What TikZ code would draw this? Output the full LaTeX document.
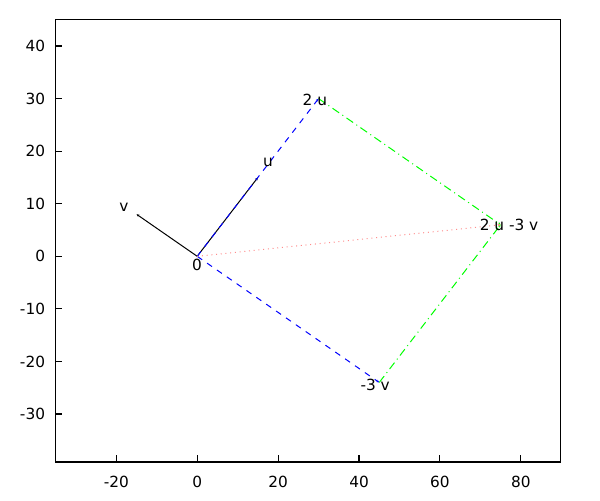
\documentclass[tikz,border=0pt]{standalone}
\usepackage{fontspec}
\setmainfont{DejaVu Sans}
\usetikzlibrary{arrows.meta}
\begin{document}
\begin{tikzpicture}[
  x=3.034pt, y=3.943pt,
  lbl/.style={inner sep=0pt, font=\fontsize{11.5}{13}\selectfont},
  vec/.style={line width=0.75pt, -{Stealth[length=2.2pt,width=2pt]}},
  blued/.style={vec, blue, dash pattern=on 4.5pt off 4.5pt},
  greendd/.style={vec, green, dash pattern=on 6pt off 3pt on 0.75pt off 3pt},
  pinkdot/.style={vec, red!45, dash pattern=on 0.75pt off 2.8pt},
  frame/.style={line width=0.8pt}
]
% bounding box: 600x500 px at 0.75pt/px, origin of data at (147.9pt,182.775pt)
\useasboundingbox (-147.9pt,-182.775pt) rectangle (302.1pt,192.225pt);
% frame
\draw[frame] (-35.08,-39.13) rectangle (89.77,45.08);
% x ticks
\foreach \t in {-20,0,20,40,60,80}{
  \draw[frame] (\t,-39.13) -- ++(0,5.25pt);
  \node[lbl] (xt\t) at ([yshift=-15pt]\t,-39.13) {\t};
}
% y ticks
\foreach \t in {-30,-20,-10,0,10,20,30,40}{
  \draw[frame] (-35.08,\t) -- ++(5.25pt,0);
  \node[lbl, anchor=east] (yt\t) at ([xshift=-7.5pt]-35.08,\t) {\t};
}
% points
\coordinate (O) at (0,0);
\coordinate (U) at (15,15);
\coordinate (V) at (-15,8);
\coordinate (TU) at (30,30);
\coordinate (MV) at (45,-24);
\coordinate (W) at (75,6);
% vectors
\draw[vec, black] (O) -- (U);
\draw[vec, black] (O) -- (V);
\draw[blued] (O) -- (TU);
\draw[blued] (O) -- (MV);
\draw[greendd] (TU) -- (W);
\draw[greendd] (MV) -- (W);
\draw[pinkdot] (O) -- (W);
% labels
\node[lbl] (l0) at (-0.05,-1.6) {0};
\node[lbl] (lu) at (17.5,17.9) {u};
\node[lbl] (lv) at (-18.1,9.4) {v};
\node[lbl] (l2u) at (29.1,29.7) {2 u};
\node[lbl] (lw) at (77.1,5.95) {2 u -3 v};
\node[lbl] (lmv) at (44.0,-24.5) {-3 v};
\end{tikzpicture}
\end{document}
